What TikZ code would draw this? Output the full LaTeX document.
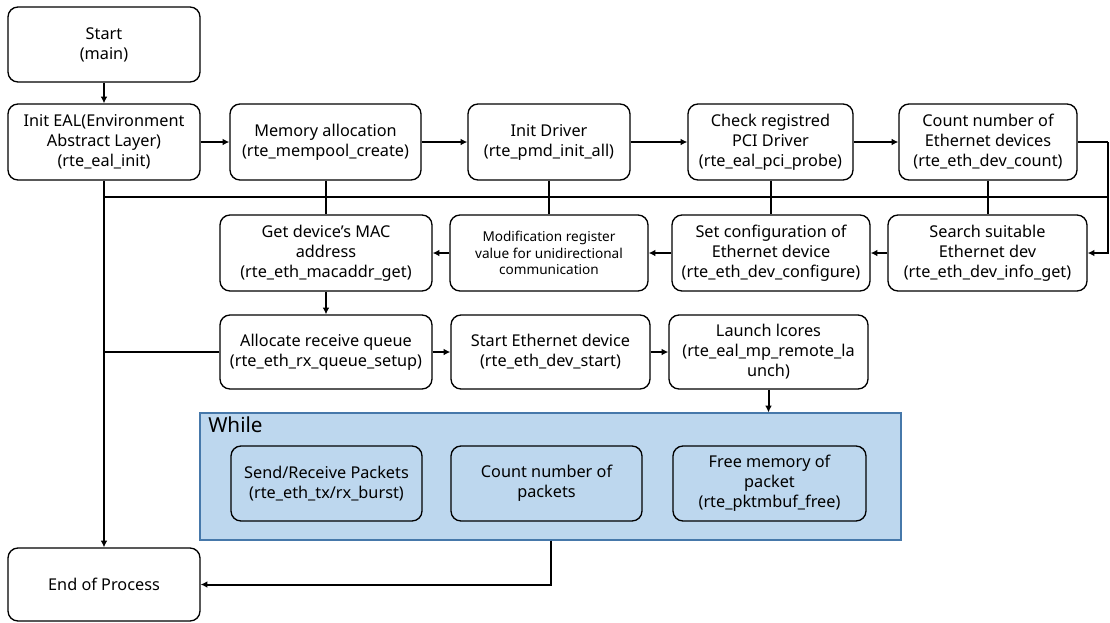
\documentclass[tikz,border=0pt]{standalone}
\usepackage{fontspec}
\setmainfont{Noto Sans}
\usetikzlibrary{arrows.meta}
\definecolor{loopfill}{RGB}{189,215,238}
\definecolor{loopedge}{RGB}{70,120,170}
\begin{document}
\begin{tikzpicture}[x=0.75pt,y=-0.75pt,
  box/.style={draw=black, line width=1pt, rounded corners=7.5pt, align=center, inner sep=1pt, fill=white, font=\fontsize{12.2}{15}\selectfont},
  smallbox/.style={box, font=\fontsize{10.2}{12.6}\selectfont},
  inbox/.style={box, fill=loopfill},
  loopbox/.style={draw=loopedge, line width=0.9pt, fill=loopfill, inner sep=0pt},
  conn/.style={line width=1.5pt},
  arr/.style={conn, -{Latex[length=5pt,width=5pt]}},
]
\useasboundingbox (0,0) rectangle (1110,622);

% row 0
\node[box, minimum width=144pt, minimum height=56.25pt] (start) at (104,44.5) {Start\\(main)};
% row 1
\node[box, minimum width=144pt, minimum height=57pt] (eal) at (104,142) {Init EAL(Environment\\Abstract Layer)\\(rte\_eal\_init)};
\node[box, minimum width=143.25pt, minimum height=57pt] (mem) at (325.5,142) {Memory allocation\\(rte\_mempool\_create)};
\node[box, minimum width=121.5pt, minimum height=57pt] (drv) at (549,142) {Init Driver\\(rte\_pmd\_init\_all)};
\node[box, minimum width=123.75pt, minimum height=57pt] (pci) at (770.5,142) {Check registred\\PCI Driver\\(rte\_eal\_pci\_probe)};
\node[box, minimum width=133.5pt, minimum height=57pt] (cnt) at (988,142) {Count number of\\Ethernet devices\\(rte\_eth\_dev\_count)};
% row 2
\node[box, minimum width=159pt, minimum height=57pt] (mac) at (326,253) {Get device’s MAC\\address\\(rte\_eth\_macaddr\_get)};
\node[smallbox, minimum width=148.5pt, minimum height=57pt] (mod) at (549,253) {Modification register\\value for unidirectional\\communication};
\node[box, minimum width=148.5pt, minimum height=57pt] (cfg) at (771,253) {Set configuration of\\Ethernet device\\(rte\_eth\_dev\_configure)};
\node[box, minimum width=149.25pt, minimum height=57pt] (srch) at (987.5,253) {Search suitable\\Ethernet dev\\(rte\_eth\_dev\_info\_get)};
% row 3
\node[box, minimum width=159pt, minimum height=55.5pt] (alloc) at (326,352) {Allocate receive queue\\(rte\_eth\_rx\_queue\_setup)};
\node[box, minimum width=149.25pt, minimum height=55.5pt] (estart) at (550.5,352) {Start Ethernet device\\(rte\_eth\_dev\_start)};
\node[box, minimum width=149.25pt, minimum height=55.5pt] (launch) at (768.5,352) {Launch lcores\\(rte\_eal\_mp\_remote\_la\\unch)};
% while loop
\node[loopbox, minimum width=525.75pt, minimum height=95.25pt] (loop) at (550.5,476.5) {};
\node[anchor=base west, inner sep=0pt, font=\fontsize{15.5}{18}\selectfont] (wlabel) at (208,432) {While};
\node[inbox, minimum width=143.25pt, minimum height=56.25pt] (sr) at (326.5,483.5) {Send/Receive Packets\\(rte\_eth\_tx/rx\_burst)};
\node[inbox, minimum width=143.25pt, minimum height=56.25pt] (cp) at (546.5,483.5) {Count number of\\packets};
\node[inbox, minimum width=144.75pt, minimum height=56.25pt] (fm) at (769.5,483.5) {Free memory of\\packet\\(rte\_pktmbuf\_free)};
% end
\node[box, minimum width=144pt, minimum height=54.75pt] (end) at (104,584.5) {End of Process};

% helper coordinates
\coordinate (busL) at (104,197);
\coordinate (busR) at (1108,197);
\coordinate (rturn) at (1108,142);

% connectors
\draw[arr] (start) -- (eal);
\draw[arr] (eal) -- (mem);
\draw[arr] (mem) -- (drv);
\draw[arr] (drv) -- (pci);
\draw[arr] (pci) -- (cnt);
\draw[conn] (cnt.east) -- (rturn);
\draw[arr] (rturn) |- (srch.east);
\draw[conn] (busL) -- (busR);
\draw[conn] (mem.south) -- (mem.south |- mac.north);
\draw[conn] (drv.south) -- (drv.south |- mod.north);
\draw[conn] (pci.south) -- (pci.south |- cfg.north);
\draw[conn] (cnt.south) -- (cnt.south |- srch.north);
\draw[arr] (srch) -- (cfg);
\draw[arr] (cfg) -- (mod);
\draw[arr] (mod) -- (mac);
\draw[arr] (mac) -- (alloc);
\draw[arr] (alloc) -- (estart);
\draw[arr] (estart) -- (launch);
\draw[arr] (launch.south) -- (launch.south |- loop.north);
\draw[arr] (eal.south) -- (end.north);
\draw[conn] (eal.south |- alloc.west) -- (alloc.west);
\draw[arr] (loop.south) |- (end.east);
\end{tikzpicture}
\end{document}
